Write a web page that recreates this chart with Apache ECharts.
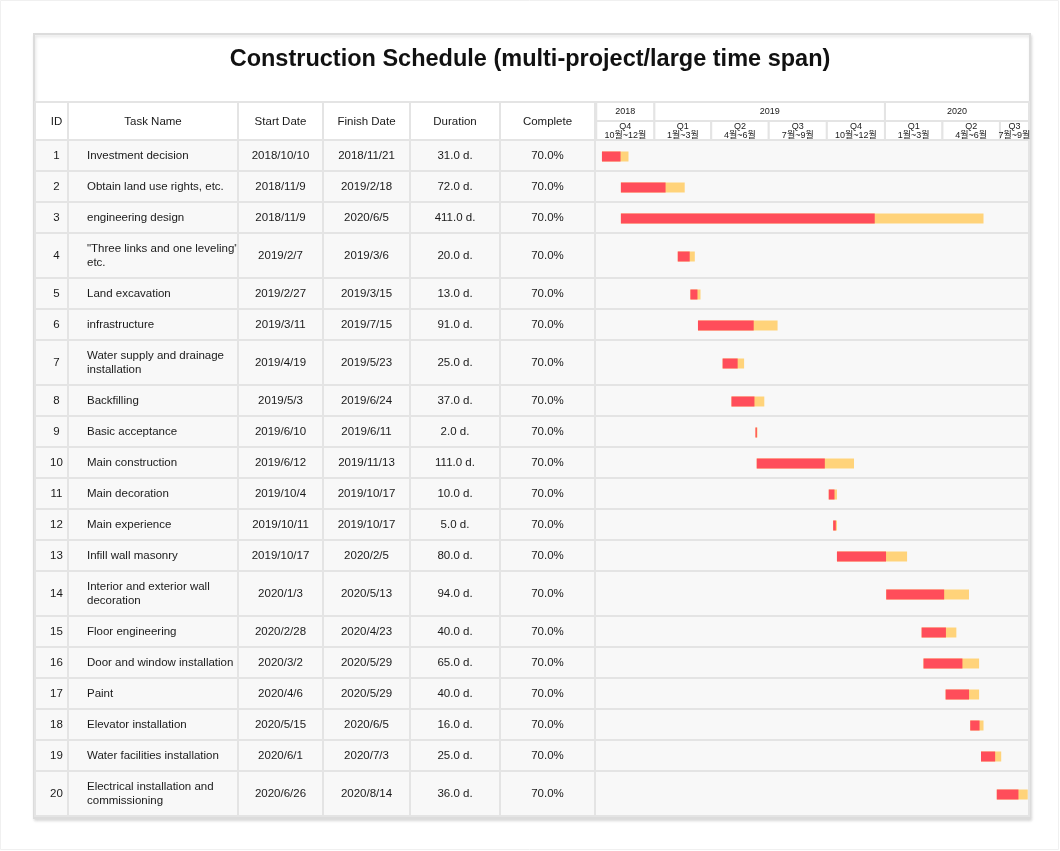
<!DOCTYPE html>
<html><head><meta charset="utf-8">
<script src="https://cdn.jsdelivr.net/npm/echarts@6/dist/echarts.min.js"></script>
<style>html,body{margin:0;padding:0;background:#fff}#c{width:1060px;height:851px}</style>
</head><body><div id="c"></div>
<script>
// ---------- DATA ----------
const titleText = 'Construction Schedule (multi-project/large time span)';
const headerLabels = ['ID', 'Task Name', 'Start Date', 'Finish Date', 'Duration', 'Complete'];
const ids = [1, 2, 3, 4, 5, 6, 7, 8, 9, 10, 11, 12, 13, 14, 15, 16, 17, 18, 19, 20];
const taskNames = [
  'Investment decision',
  'Obtain land use rights, etc.',
  'engineering design',
  '"Three links and one leveling"\netc.',
  'Land excavation',
  'infrastructure',
  'Water supply and drainage\ninstallation',
  'Backfilling',
  'Basic acceptance',
  'Main construction',
  'Main decoration',
  'Main experience',
  'Infill wall masonry',
  'Interior and exterior wall\ndecoration',
  'Floor engineering',
  'Door and window installation',
  'Paint',
  'Elevator installation',
  'Water facilities installation',
  'Electrical installation and\ncommissioning'
];
const startDates = ['2018/10/10', '2018/11/9', '2018/11/9', '2019/2/7', '2019/2/27', '2019/3/11', '2019/4/19', '2019/5/3', '2019/6/10', '2019/6/12', '2019/10/4', '2019/10/11', '2019/10/17', '2020/1/3', '2020/2/28', '2020/3/2', '2020/4/6', '2020/5/15', '2020/6/1', '2020/6/26'];
const finishDates = ['2018/11/21', '2019/2/18', '2020/6/5', '2019/3/6', '2019/3/15', '2019/7/15', '2019/5/23', '2019/6/24', '2019/6/11', '2019/11/13', '2019/10/17', '2019/10/17', '2020/2/5', '2020/5/13', '2020/4/23', '2020/5/29', '2020/5/29', '2020/6/5', '2020/7/3', '2020/8/14'];
const durations = [31, 72, 411, 20, 13, 91, 25, 37, 2, 111, 10, 5, 80, 94, 40, 65, 40, 16, 25, 36];
const completePct = [70, 70, 70, 70, 70, 70, 70, 70, 70, 70, 70, 70, 70, 70, 70, 70, 70, 70, 70, 70];
const yearLabels = ['2018', '2019', '2020'];
const yearStarts = ['2018/10/1', '2019/1/1', '2020/1/1'];
const yearEnds = ['2019/1/1', '2020/1/1', '2021/1/1'];
const quarterNames = ['Q4', 'Q1', 'Q2', 'Q3', 'Q4', 'Q1', 'Q2', 'Q3'];
const quarterMonths = ['10월~12월', '1월~3월', '4월~6월', '7월~9월', '10월~12월', '1월~3월', '4월~6월', '7월~9월'];
const quarterStarts = ['2018/10/1', '2019/1/1', '2019/4/1', '2019/7/1', '2019/10/1', '2020/1/1', '2020/4/1', '2020/7/1'];
const quarterEnds = ['2019/1/1', '2019/4/1', '2019/7/1', '2019/10/1', '2020/1/1', '2020/4/1', '2020/7/1', '2020/10/1'];
const timelineMin = '2018/9/29';
const timelineMax = '2020/8/16';

// ---------- LAYOUT / STYLE ----------
const FONT = '"Liberation Sans", Arial, Helvetica, "Noto Sans CJK KR", sans-serif';
const LINE = '#e4e4e4';
const LINE_W = 2;
const ROW_BG = '#f8f8f8';
const RED = '#ff4d5a';
const YELLOW = '#ffd37a';
const TEXT = '#1a1a1a';
const BODY_SIZE = 11.5;
const colWidths = [33, 170, 85, 87, 90, 95];
const TABLE_UNITS = colWidths.reduce((a, b) => a + b, 0);
const HEADER_H = 38, YEAR_H = 19;
const SINGLE_H = 31, DOUBLE_H = 45;
const GRID_TOP = 102;

function parseDate(s) { const p = s.split('/').map(Number); return new Date(p[0], p[1] - 1, p[2]).getTime(); }
const tMin = parseDate(timelineMin), tMax = parseDate(timelineMax);

const rowHeights = taskNames.map(n => n.indexOf('\n') >= 0 ? DOUBLE_H : SINGLE_H);
const rowTops = [];
{ let acc = HEADER_H; rowHeights.forEach(h => { rowTops.push(acc); acc += h; }); }
const TOTAL_H = HEADER_H + rowHeights.reduce((a, b) => a + b, 0);

function rectEl(x, y, w, h, style) { return { type: 'rect', shape: { x, y, width: w, height: h }, style }; }
function textEl(text, x, y, align, size, extra) {
  return { type: 'text', style: Object.assign({ text, x, y, align, verticalAlign: 'middle', fontSize: size, fontFamily: FONT, fill: TEXT }, extra || {}) };
}

const chart = echarts.init(document.getElementById('c'), null, { renderer: 'canvas' });

const tableData = [[0, HEADER_H / 2, -1]].concat(ids.map((_, i) => [0, rowTops[i] + rowHeights[i] / 2, i]));
const rowData = ids.map((_, i) => [tMin, rowTops[i] + rowHeights[i] / 2, i]);
const barData = ids.map((_, i) => [parseDate(startDates[i]), parseDate(finishDates[i]), i, rowTops[i] + rowHeights[i] / 2]);
const yearData = yearLabels.map((_, i) => [parseDate(yearStarts[i]), parseDate(yearEnds[i]), i, YEAR_H / 2]);
const quarterData = quarterNames.map((_, i) => [parseDate(quarterStarts[i]), parseDate(quarterEnds[i]), i, (YEAR_H + HEADER_H) / 2]);

const option = {
  backgroundColor: '#fff',
  animation: false,
  title: {
    text: titleText, left: 'center', top: 43,
    textStyle: { fontSize: 23.5, fontWeight: 'bold', fontFamily: FONT, color: '#111' }
  },
  graphic: [
    { type: 'rect', z: -10, shape: { x: 0.5, y: 0.5, width: 1058, height: 849 }, style: { fill: '#fff', stroke: '#f0f0f0', lineWidth: 1 } },
    { type: 'rect', z: -5, shape: { x: 34, y: 34, width: 996, height: 784 },
      style: { fill: '#fff', stroke: '#dcdcdc', lineWidth: 2, shadowBlur: 3, shadowOffsetX: 1, shadowOffsetY: 2, shadowColor: 'rgba(0,0,0,0.12)' } }
  ],
  grid: [
    { left: 35, top: GRID_TOP, width: TABLE_UNITS, height: TOTAL_H },
    { left: 595, top: GRID_TOP, width: 434, height: TOTAL_H }
  ],
  xAxis: [
    { gridIndex: 0, type: 'value', min: 0, max: TABLE_UNITS, show: false },
    { gridIndex: 1, type: 'time', min: tMin, max: tMax, show: false }
  ],
  yAxis: [
    { gridIndex: 0, type: 'value', min: 0, max: TOTAL_H, inverse: true, show: false },
    { gridIndex: 1, type: 'value', min: 0, max: TOTAL_H, inverse: true, show: false }
  ],
  series: [
    {
      type: 'custom', name: 'table', xAxisIndex: 0, yAxisIndex: 0, clip: false, z: 2,
      encode: { x: 0, y: 1 }, data: tableData,
      renderItem(params, api) {
        const i = api.value(2);
        const isHeader = i < 0;
        const top = isHeader ? 0 : rowTops[i];
        const h = isHeader ? HEADER_H : rowHeights[i];
        const a = api.coord([0, top]), b = api.coord([TABLE_UNITS, top + h]);
        const children = [rectEl(a[0], a[1], b[0] - a[0], b[1] - a[1], { fill: isHeader ? '#fff' : ROW_BG })];
        const texts = isHeader ? headerLabels : [
          String(ids[i]), taskNames[i], startDates[i], finishDates[i],
          durations[i].toFixed(1) + ' d.', completePct[i].toFixed(1) + '%'
        ];
        let cx = 0;
        colWidths.forEach((w, c) => {
          const p = api.coord([cx, top]), q = api.coord([cx + w, top + h]);
          children.push(rectEl(p[0], p[1], q[0] - p[0], q[1] - p[1], { fill: null, stroke: LINE, lineWidth: LINE_W }));
          const leftAlign = !isHeader && c === 1;
          const tx = leftAlign ? p[0] + 19 : (p[0] + q[0]) / 2 + (c === 0 ? 5 : 0);
          children.push(textEl(texts[c], tx, (p[1] + q[1]) / 2 + 0.5, leftAlign ? 'left' : 'center', BODY_SIZE, { lineHeight: 14 }));
          cx += w;
        });
        return { type: 'group', children };
      }
    },
    {
      type: 'custom', name: 'rows', xAxisIndex: 1, yAxisIndex: 1, clip: false, z: 2,
      encode: { x: 0, y: 1 }, data: rowData,
      renderItem(params, api) {
        const i = api.value(2);
        const a = api.coord([tMin, rowTops[i]]), b = api.coord([tMax, rowTops[i] + rowHeights[i]]);
        return rectEl(a[0], a[1], b[0] - a[0], b[1] - a[1], { fill: ROW_BG, stroke: LINE, lineWidth: LINE_W });
      }
    },
    {
      type: 'custom', name: 'years', xAxisIndex: 1, yAxisIndex: 1, clip: false, z: 3,
      encode: { x: [0, 1], y: 3 }, data: yearData,
      renderItem(params, api) {
        const i = api.value(2);
        const s = Math.max(api.value(0), tMin), e = Math.min(api.value(1), tMax);
        const a = api.coord([s, 0]), b = api.coord([e, YEAR_H]);
        return { type: 'group', children: [
          rectEl(a[0], a[1], b[0] - a[0], b[1] - a[1], { fill: '#fff', stroke: LINE, lineWidth: LINE_W }),
          textEl(yearLabels[i], (a[0] + b[0]) / 2, (a[1] + b[1]) / 2, 'center', 9)
        ] };
      }
    },
    {
      type: 'custom', name: 'quarters', xAxisIndex: 1, yAxisIndex: 1, clip: false, z: 3,
      encode: { x: [0, 1], y: 3 }, data: quarterData,
      renderItem(params, api) {
        const i = api.value(2);
        const s = Math.max(api.value(0), tMin), e = Math.min(api.value(1), tMax);
        const a = api.coord([s, YEAR_H]), b = api.coord([e, HEADER_H]);
        return { type: 'group', children: [
          rectEl(a[0], a[1], b[0] - a[0], b[1] - a[1], { fill: '#fff', stroke: LINE, lineWidth: LINE_W }),
          textEl(quarterNames[i] + '\n' + quarterMonths[i], (a[0] + b[0]) / 2, (a[1] + b[1]) / 2 + 0.5, 'center', 9, { lineHeight: 9 })
        ] };
      }
    },
    {
      type: 'custom', name: 'bars', xAxisIndex: 1, yAxisIndex: 1, clip: false, z: 5,
      encode: { x: [0, 1], y: 3 }, data: barData,
      renderItem(params, api) {
        const i = api.value(2);
        const s = api.value(0), f = api.value(1);
        const mid = api.value(3);
        const pct = completePct[i] / 100;
        const p0 = api.coord([s, mid]), p1 = api.coord([f, mid]);
        const pm = api.coord([s + (f - s) * pct, mid]);
        const bh = 10, y = p0[1] - bh / 2 + 1;
        const total = Math.max(p1[0] - p0[0], 2);
        const redW = Math.max((pm[0] - p0[0]), total * pct);
        return { type: 'group', children: [
          rectEl(p0[0], y, total, bh, { fill: YELLOW }),
          rectEl(p0[0], y, redW, bh, { fill: RED })
        ] };
      }
    }
  ]
};
chart.setOption(option);
</script>
</body></html>
